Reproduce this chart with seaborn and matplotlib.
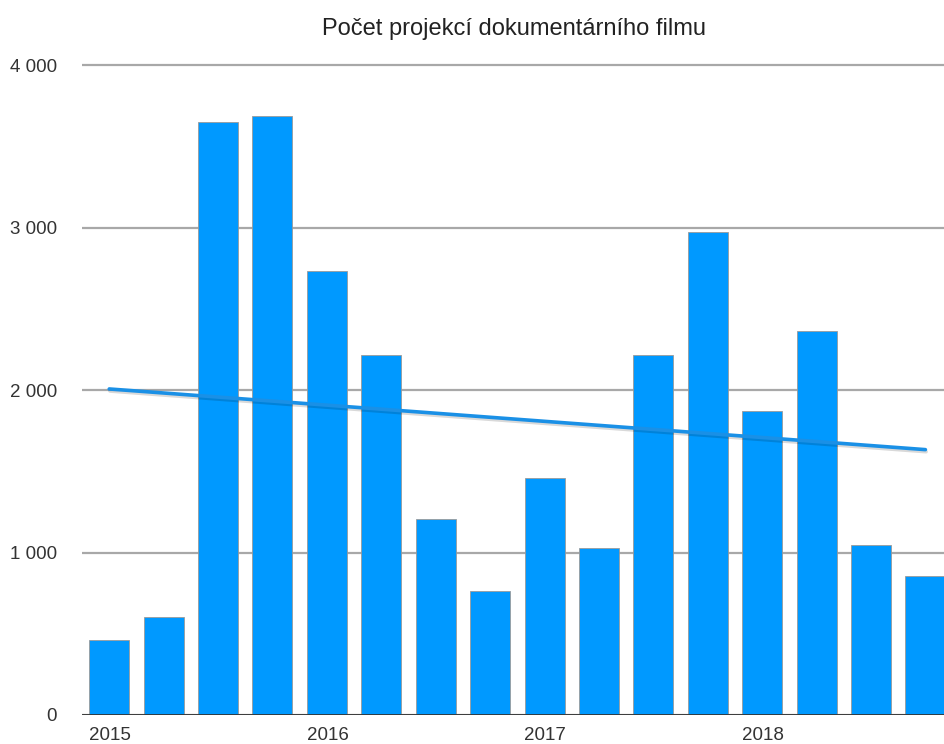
import matplotlib
matplotlib.use("Agg")
import matplotlib.pyplot as plt
import matplotlib.patheffects as pe
import seaborn as sns
import numpy as np
import pandas as pd

quarters = ["2015 Q1", "2015 Q2", "2015 Q3", "2015 Q4",
            "2016 Q1", "2016 Q2", "2016 Q3", "2016 Q4",
            "2017 Q1", "2017 Q2", "2017 Q3", "2017 Q4",
            "2018 Q1", "2018 Q2", "2018 Q3", "2018 Q4"]
screenings = [460, 601, 3650, 3687, 2730, 2215, 1209, 761,
              1460, 1025, 2215, 2975, 1871, 2362, 1049, 853]
year_labels = ["2015", "2016", "2017", "2018"]

df = pd.DataFrame({"kvartal": quarters, "projekce": screenings})
df["pos"] = np.arange(len(df))

sns.set_style("white")
plt.rcParams["font.family"] = ["Liberation Sans", "DejaVu Sans"]

fig = plt.figure(figsize=(9.45, 7.44), dpi=100)
ax = fig.add_axes([0.0868, 0.039, 0.9132, 0.876])

ax.yaxis.grid(True, color="#a8a8a8", linewidth=1.6)
ax.set_axisbelow(True)

sns.barplot(data=df, x="kvartal", y="projekce", color="#0099ff", saturation=1,
            width=0.735, edgecolor="#9a9a9a", linewidth=0.6, ax=ax)

# linear trend line
sns.regplot(data=df, x="pos", y="projekce", scatter=False, ci=None, truncate=True,
            color="#1a90e6", line_kws={"linewidth": 2.6,
                                       "path_effects": [pe.SimpleLineShadow(offset=(0.5, -1.5), alpha=0.15),
                                                        pe.Normal()]},
            ax=ax)

ax.axhline(0, color="#333333", linewidth=2)
ax.set_xlim(-0.5, 15.36)
ax.set_ylim(0, 4012)
ax.set_yticks([0, 1000, 2000, 3000, 4000])
ax.set_yticklabels(["0", "1 000", "2 000", "3 000", "4 000"], fontsize=13.5, color="#333333")
ax.tick_params(axis="y", length=0, pad=18)

ax.set_xticks([i - 0.37 for i in range(0, 16, 4)])
ax.set_xticklabels(year_labels, fontsize=13.5, ha="left", color="#333333")
ax.tick_params(axis="x", length=0, pad=9)

ax.set_xlabel("")
ax.set_ylabel("")
sns.despine(ax=ax, left=True, bottom=True, right=True, top=True)

ax.set_title("Počet projekcí dokumentárního filmu", fontsize=17, pad=20, color="#222222")

fig.savefig("out.png", dpi=100)
